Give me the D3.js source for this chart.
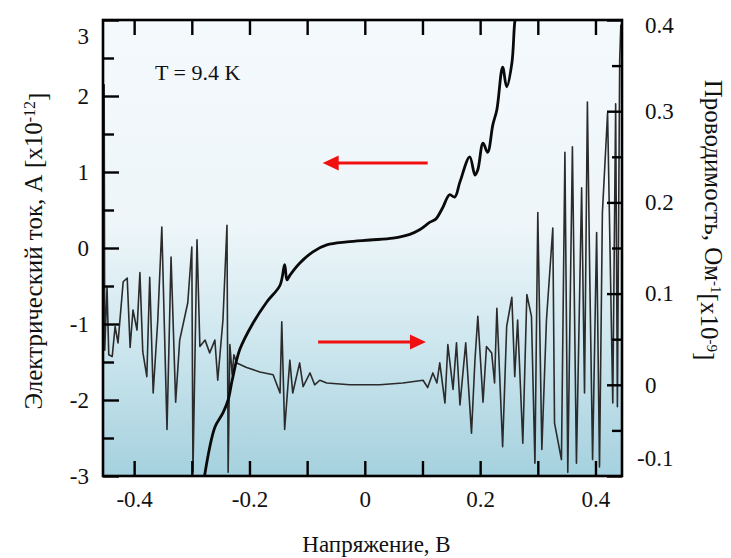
<!DOCTYPE html>
<html><head><meta charset="utf-8">
<script src="https://cdn.jsdelivr.net/npm/d3@7"></script>
<style>html,body{margin:0;padding:0;background:#fff}svg{display:block}svg text{font-family:"Liberation Serif","Times New Roman",serif !important;fill:#111}</style>
</head><body>
<svg id="c" width="731" height="558"></svg>
<script>
// ---- data ----
const ivVoltage = [-0.279,-0.260,-0.246,-0.237,-0.230,-0.217,-0.194,-0.170,-0.147,-0.139,-0.135,-0.130,-0.113,-0.090,-0.066,-0.031,0.009,0.049,0.078,0.095,0.113,0.123,0.135,0.147,0.156,0.165,0.182,0.191,0.196,0.205,0.213,0.222,0.229,0.239,0.246,0.255,0.260,0.263];
const ivCurrent = [-3.05,-2.36,-2.17,-2.00,-1.74,-1.34,-0.99,-0.71,-0.49,-0.22,-0.42,-0.36,-0.20,-0.05,0.04,0.08,0.105,0.13,0.18,0.24,0.34,0.38,0.53,0.70,0.67,0.87,1.20,0.96,1.03,1.38,1.26,1.62,1.82,2.38,2.12,2.43,2.97,3.10];
const gVoltage = [-0.454,-0.452,-0.451,-0.447,-0.444,-0.438,-0.433,-0.428,-0.419,-0.412,-0.407,-0.402,-0.395,-0.390,-0.385,-0.378,-0.373,-0.367,-0.359,-0.352,-0.343,-0.336,-0.328,-0.321,-0.307,-0.300,-0.298,-0.291,-0.286,-0.277,-0.269,-0.260,-0.255,-0.246,-0.239,-0.237,-0.234,-0.230,-0.227,-0.222,-0.205,-0.182,-0.159,-0.147,-0.144,-0.139,-0.130,-0.125,-0.113,-0.107,-0.095,-0.087,-0.078,-0.066,-0.026,0.026,0.066,0.101,0.109,0.118,0.125,0.130,0.139,0.144,0.153,0.159,0.165,0.175,0.185,0.191,0.196,0.205,0.211,0.220,0.225,0.229,0.239,0.246,0.255,0.260,0.265,0.274,0.281,0.289,0.295,0.300,0.307,0.315,0.326,0.329,0.341,0.347,0.352,0.360,0.367,0.376,0.381,0.386,0.390,0.395,0.402,0.407,0.412,0.421,0.430,0.435,0.438,0.442,0.444];
const gValue = [0.093,0.329,0.038,0.107,0.033,0.031,0.064,0.046,0.113,0.117,0.041,0.082,0.060,0.123,0.036,0.009,0.118,-0.009,0.071,0.173,-0.049,0.140,-0.019,0.049,0.090,0.151,-0.096,0.159,0.042,0.049,0.035,0.049,0.005,0.071,0.175,-0.096,0.044,0.011,0.033,0.024,0.019,0.014,0.011,-0.009,0.069,-0.049,0.027,-0.009,0.024,-0.002,0.013,0.000,0.005,0.002,0.000,0.000,0.002,0.005,-0.003,0.013,0.002,0.024,-0.020,0.044,-0.005,0.046,-0.022,0.046,-0.053,0.027,0.075,-0.019,0.042,0.035,0.002,0.084,-0.068,0.064,0.096,0.009,0.071,-0.064,0.099,0.075,-0.086,0.189,-0.071,0.071,0.172,-0.042,-0.082,0.255,-0.096,0.261,-0.086,0.216,-0.009,0.310,0.123,-0.082,0.167,-0.090,0.189,0.298,-0.020,0.308,-0.024,0.356,0.395];
const xTicks = [-0.4,-0.3,-0.2,-0.1,0,0.1,0.2,0.3,0.4];
const xLabels = [-0.4,-0.2,0,0.2,0.4];
const yLeftTicks = [-3,-2.5,-2,-1.5,-1,-0.5,0,0.5,1,1.5,2,2.5,3];
const yLeftLabels = [-3,-2,-1,0,1,2,3];
const yRightTicks = [-0.1,-0.05,0,0.05,0.1,0.15,0.2,0.25,0.3,0.35,0.4];
const yRightLabels = [-0.1,0,0.1,0.2,0.3,0.4];
const xTitle = "Напряжение, В";
const leftTitle = ["Электрический ток, А [x10", "-12", "]"];
const rightTitle = ["Проводимость, Ом", "-1", "[x10", "-9", "]"];
const tempLabel = "T = 9.4 K";
const arrowLeft = {v0: 0.109, v1: -0.073, i: 1.12};
const arrowRight = {v0: -0.081, v1: 0.106, g: 0.047};

// ---- layout ----
const L = 103, R = 622, T = 20, B = 476;
const SERIF = "'Liberation Serif','Times New Roman',serif";
const svg = d3.select("#c");
const x = d3.scaleLinear([-0.454, 0.446], [L, R]);
const yL = d3.scaleLinear([-3, 3], [B, T]);
const yR = d3.scaleLinear([-0.1, 0.4], [B, T]);
const fmt = v => (v < 0 ? "-" : "") + String(Math.abs(+v.toFixed(2)));

const defs = svg.append("defs");
const grad = defs.append("linearGradient").attr("id","bg").attr("x1",0).attr("y1",0).attr("x2",0).attr("y2",1);
grad.append("stop").attr("offset","0%").attr("stop-color","#f4f9fc");
grad.append("stop").attr("offset","45%").attr("stop-color","#eef6f9");
grad.append("stop").attr("offset","70%").attr("stop-color","#cfe7ef");
grad.append("stop").attr("offset","100%").attr("stop-color","#a5d1de");
defs.append("clipPath").attr("id","clip").append("rect").attr("x",L).attr("y",T).attr("width",R-L).attr("height",B-T);

svg.append("rect").attr("x",L).attr("y",T).attr("width",R-L).attr("height",B-T).attr("fill","url(#bg)");

const plot = svg.append("g").attr("clip-path","url(#clip)");
// conductance
const gData = gVoltage.map((v,i)=>[v,gValue[i]]);
plot.append("path").datum(gData)
  .attr("d", d3.line().x(d=>x(d[0])).y(d=>yR(d[1])))
  .attr("fill","none").attr("stroke","#2b2b2b").attr("stroke-width",1.6).attr("stroke-linejoin","round");
// current
const ivData = ivVoltage.map((v,i)=>[v,ivCurrent[i]]);
plot.append("path").datum(ivData)
  .attr("d", d3.line().x(d=>x(d[0])).y(d=>yL(d[1])).curve(d3.curveCatmullRom.alpha(0.5)))
  .attr("fill","none").attr("stroke","#0a0a0a").attr("stroke-width",2.8).attr("stroke-linejoin","round");

// axes ticks
function styleAxis(g){
  g.attr("font-family", SERIF);
  g.select(".domain").remove();
  g.selectAll(".tick line").attr("stroke","#000").attr("stroke-width",2.4);
  g.selectAll("text").attr("font-family", SERIF).style("font-size","23px").attr("fill","#111");
}
const gx = svg.append("g").attr("transform",`translate(0,${B})`)
  .call(d3.axisBottom(x).tickValues(xTicks).tickSize(-15).tickPadding(15).tickFormat(v => xLabels.some(l=>Math.abs(l-v)<1e-9) ? fmt(v) : ""));
styleAxis(gx);
const gxt = svg.append("g").attr("transform",`translate(0,${T})`)
  .call(d3.axisTop(x).tickValues(xTicks).tickSize(-15).tickFormat(""));
styleAxis(gxt);

const gyl = svg.append("g").attr("transform",`translate(${L},0)`)
  .call(d3.axisLeft(yL).tickValues(yLeftTicks).tickSize(-16).tickPadding(14).tickFormat(v => Number.isInteger(v) ? fmt(v) : ""));
styleAxis(gyl);
gyl.selectAll(".tick line").attr("x2", d => Number.isInteger(d) ? 16 : 11);
gyl.selectAll(".tick text").attr("dy", d => d === 3 ? "1.0em" : "0.32em");

const gyr = svg.append("g").attr("transform",`translate(${R},0)`)
  .call(d3.axisRight(yR).tickValues(yRightTicks).tickSize(-15).tickPadding(23).tickFormat(v => yRightLabels.some(l=>Math.abs(l-v)<1e-9) ? fmt(v) : ""));
styleAxis(gyr);
gyr.selectAll(".tick line").attr("x2", d => Math.abs(Math.round(d*10)-d*10)<1e-6 ? -15 : -10);
gyr.selectAll(".tick text").attr("x", d => d < 0 ? 15 : 23)
  .attr("dy", d => d === 0.4 ? "0.55em" : (d < 0 ? "-0.45em" : "0.32em"));

// frame
svg.append("rect").attr("x",L).attr("y",T).attr("width",R-L).attr("height",B-T)
  .attr("fill","none").attr("stroke","#000").attr("stroke-width",2.6);

// arrows
function arrow(x0,x1,y){
  const dir = Math.sign(x1-x0);
  svg.append("line").attr("x1",x0).attr("x2",x1-dir*12).attr("y1",y).attr("y2",y).attr("stroke","#f01010").attr("stroke-width",3);
  svg.append("path").attr("d",`M${x1},${y}L${x1-dir*16},${y-7.5}L${x1-dir*16},${y+7.5}Z`).attr("fill","#f01010");
}
arrow(x(arrowLeft.v0), x(arrowLeft.v1), yL(arrowLeft.i));
arrow(x(arrowRight.v0), x(arrowRight.v1), yR(arrowRight.g));

// texts
svg.append("text").attr("x",155).attr("y",80).style("font-size","22px").text(tempLabel);
svg.append("text").attr("x",(L+R)/2+14).attr("y",552).attr("text-anchor","middle").style("font-size","23px").text(xTitle);

const lt = svg.append("text").attr("transform","translate(42,251) rotate(-90)").attr("text-anchor","middle").style("font-size","25px");
lt.append("tspan").text(leftTitle[0]);
lt.append("tspan").attr("dy","-0.45em").style("font-size","16px").text(leftTitle[1]);
lt.append("tspan").attr("dy","0.45em").text(leftTitle[2]);

const rt = svg.append("text").attr("transform","translate(705,220) rotate(90)").attr("text-anchor","middle").style("font-size","25px");
rt.append("tspan").text(rightTitle[0]);
rt.append("tspan").attr("dy","-0.4em").style("font-size","15px").text(rightTitle[1]);
rt.append("tspan").attr("dy","0.4em").text(rightTitle[2]);
rt.append("tspan").attr("dy","-0.4em").style("font-size","15px").text(rightTitle[3]);
rt.append("tspan").attr("dy","0.4em").text(rightTitle[4]);
</script>
</body></html>
